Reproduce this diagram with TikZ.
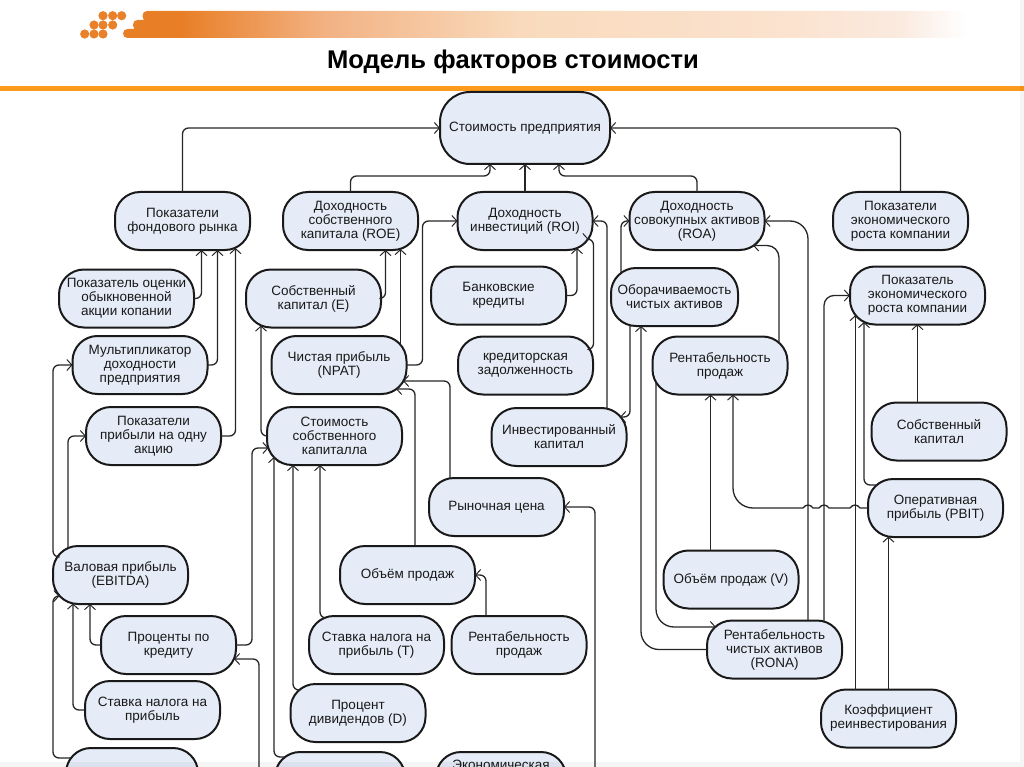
\documentclass[tikz,border=0pt]{standalone}
\usepackage{fontspec}
\setmainfont{Liberation Sans}
\usetikzlibrary{arrows.meta,calc}
\definecolor{vfill}{HTML}{E5ECF7}
\definecolor{vrule}{HTML}{FB9A1C}
\definecolor{vdot}{HTML}{E8812A}
\definecolor{vbarA}{HTML}{E87F27}
\definecolor{vbarB}{HTML}{F2B283}
\definecolor{vbarC}{HTML}{F9DABC}
\definecolor{vbarD}{HTML}{FBE3D0}
\definecolor{vbarE}{HTML}{FAEADF}
\pgfdeclarehorizontalshading{vbar}{100bp}{
  color(0bp)=(vbarA);
  color(28.5bp)=(vbarA);
  color(37bp)=(vbarB);
  color(48.5bp)=(vbarC);
  color(65bp)=(vbarD);
  color(71bp)=(vbarE);
  color(75bp)=(white);
  color(100bp)=(white)}
\begin{document}
\begin{tikzpicture}[
  x=1pt, y=-1pt,
  vfact/.style = {draw=black!90, fill=vfill, line width=2pt, rectangle, rounded corners=25,
    minimum width=135, minimum height=58, inner sep=0pt, outer sep=0pt, align=center,
    text=black!90, font=\fontsize{13.5}{14}\selectfont},
  vwire/.style = {-{Straight Barb[length=5pt,width=11pt,line width=1pt]}, line width=1.3pt, black!85, rounded corners=6}
]
  \useasboundingbox (0,0) rectangle (1024,767);
  \clip (0,0) rectangle (1024,767);
  % header
  \foreach \x/\y in {103/15.7,112.7/15.7,121.7/15.7,94/25,103/25,112.7/25,84.7/34,94/34,103/34} {
    \fill[vdot] (\x,\y) circle (4.6);
  }
  \shade[shading=vbar, rounded corners=4.5] (142.5,11) rectangle (967,21)
    (133,20) rectangle (967,30) (123,29) rectangle (967,38);
  \node (titul) at (513,62) {\fontsize{25.6}{27}\selectfont\bfseries Модель факторов стоимости};
  \fill[vrule] (0,86) rectangle (1024,91);
  % top row
  \node[vfact, minimum width=170, minimum height=72, rounded corners=30] (top) at (525,128) {Стоимость предприятия};
  \node[vfact] (fond) at (182.5,221) {Показатели\\фондового рынка};
  \node[vfact] (roe) at (350.5,221) {Доходность\\собственного\\капитала (ROE)};
  \node[vfact] (roi) at (525,221) {Доходность\\инвестиций (ROI)};
  \node[vfact] (roa) at (697,221) {Доходность\\совокупных активов\\(ROA)};
  \node[vfact] (econ) at (900.5,221) {Показатели\\экономического\\роста компании};
  % second row
  \node[vfact] (ocenka) at (126.5,298.5) {Показатель оценки\\обыкновенной\\акции копании};
  \node[vfact] (sobstE) at (313.5,298.5) {Собственный\\капитал (E)};
  \node[vfact] (bank) at (498.5,295.5) {Банковские\\кредиты};
  \node[vfact, minimum width=127] (oborot) at (674.5,297) {Оборачиваемость\\чистых активов};
  \node[vfact] (econB) at (917.5,295.5) {Показатель\\экономического\\роста компании};
  % third row
  \node[vfact] (mult) at (140,365) {Мультипликатор\\доходности\\предприятия};
  \node[vfact] (npat) at (339,365) {Чистая прибыль\\(NPAT)};
  \node[vfact] (kred) at (525.5,365.5) {кредиторская\\задолженность};
  \node[vfact] (rent) at (720,365.5) {Рентабельность\\продаж};
  \node[vfact] (prib) at (153.5,436) {Показатели\\прибыли на одну\\акцию};
  \node[vfact] (stoimK) at (334.5,436) {Стоимость\\собственного\\капиталла};
  \node[vfact] (invest) at (559,437) {Инвестированный\\капитал};
  \node[vfact] (sobstK) at (939,431.5) {Собственный\\капитал};
  % lower rows
  \node[vfact] (rynok) at (496.5,507) {Рыночная цена};
  \node[vfact] (pbit) at (935.5,508) {Оперативная\\прибыль (PBIT)};
  \node[vfact] (ebitda) at (120.5,575) {Валовая прибыль\\(EBITDA)};
  \node[vfact] (obem) at (407.5,575) {Объём продаж};
  \node[vfact] (obemV) at (731,579.5) {Объём продаж (V)};
  \node[vfact] (proc) at (168.5,645) {Проценты по\\кредиту};
  \node[vfact] (stavkaT) at (376.5,645) {Ставка налога на\\прибыль (T)};
  \node[vfact] (rentB) at (519,645) {Рентабельность\\продаж};
  \node[vfact] (rona) at (774.5,649.5) {Рентабельность\\чистых активов\\(RONA)};
  \node[vfact] (stavka) at (152.5,710) {Ставка налога на\\прибыль};
  \node[vfact] (divid) at (358,713) {Процент\\дивидендов (D)};
  \node[vfact] (koef) at (888.5,718.5) {Коэффициент\\реинвестирования};
  % cut off by the lower edge
  \node[vfact, minimum width=132] (nizA) at (132,777) {};
  \node[vfact, minimum width=130] (nizB) at (340,781) {};
  \node[vfact, minimum width=130] (nizC) at (501,781) {\raisebox{12pt}[0pt][0pt]{Экономическая}};
  \coordinate (nizP) at (259,775);
  \coordinate (nizR) at (595,775);
  % to the top
  \draw[vwire] (fond.north) |- (top.west);
  \draw[vwire] (econ.north) |- (top.east);
  \draw[vwire] (roi.north) -- (top.south);
  \draw[vwire] (roe.north) -- ++(0,-16) -| ($(top)+(-35,36)$);
  \draw[vwire] (roa.north) -- ++(0,-16) -| ($(top)+(34,36)$);
  % stock market block
  \draw[vwire] (ocenka.east) -| ($(fond)+(19,29)$);
  \draw[vwire] (mult.east) -| ($(fond)+(35,29)$);
  \draw[vwire] (prib.east) -| ($(fond)+(53,27)$);
  \draw[vwire] ($(ebitda)+(-61,-18)$) -- ++(-6.5,0) |- (mult.west);
  \draw[vwire] ($(ebitda)+(-52.5,-27)$) |- (prib.west);
  \draw[vwire] ($(nizA)+(-61,-19)$) -- ++(-18,0) |- ($(ebitda)+(-61,21)$);
  \draw[vwire] (stavka.west) -| ($(ebitda)+(-47.5,28.5)$);
  \draw[vwire] (proc.west) -| ($(ebitda)+(-30.5,29)$);
  \draw[vwire] (nizP) |- ($(proc)+(65.5,14)$);
  % equity block
  \draw[vwire] (sobstE.east) -| ($(roe)+(35,29)$);
  \draw[vwire] ($(npat)+(61.5,-20)$) -- ($(roe)+(50,28)$);
  \draw[vwire] (npat.east) -- ++(16,0) |- (roi.west);
  \draw[vwire] ($(rynok)+(-46.5,-29)$) |- ($(npat)+(64,16)$);
  \draw[vwire] ($(obem)+(7.5,-29)$) |- ($(npat)+(57,24)$);
  \draw[vwire] (stoimK.west) -| ($(sobstE)+(-52.5,27)$);
  \draw[vwire] (proc.east) -- ++(16,0) |- ($(stoimK)+(-66,12)$);
  \draw[vwire] ($(nizB)+(-55,-24)$) -| ($(stoimK)+(-60.5,21)$);
  \draw[vwire] ($(divid)+(-58,-23)$) -| ($(stoimK)+(-41.5,29)$);
  \draw[vwire] ($(stavkaT)+(-52,-27)$) -| ($(stoimK)+(-14.5,29)$);
  \draw[vwire] ($(rentB)+(-33,-29)$) |- (obem.east);
  \draw[vwire] (nizR) |- (rynok.east);
  % investment block
  \draw[vwire] (bank.east) -| ($(roi)+(52,27)$);
  \draw[vwire] ($(kred)+(64,-16)$) -- ++(4,0) |- ($(roi)+(63.5,18)$);
  \draw[vwire] ($(invest)+(48,-28)$) |- (roi.east);
  \draw[vwire] ($(oborot)+(-44.5,28)$) |- ($(invest)+(61,-20)$);
  % assets block
  \draw[vwire] ($(oborot)+(-53.5,-24)$) |- (roa.west);
  \draw[vwire, rounded corners=18] (rona.west) -| ($(oborot)+(-33.5,29)$);
  \draw[vwire, rounded corners=18] ($(rent)+(-64,16)$) |- ($(rona)+(-58.5,-22.5)$);
  \draw[vwire] ($(obemV)+(-20.5,-28.5)$) -- ($(rent)+(-9.5,29)$);
  \draw[vwire, rounded corners=12] ($(rent)+(59,-22)$) |- ($(roa)+(56,24.5)$);
  \draw[vwire, rounded corners=18] ($(rona)+(33.5,-28.5)$) |- (roa.east);
  \draw[vwire, rounded corners=10] ($(rona)+(49.5,-27.5)$) |- (econB.west);
  \draw[vwire] ($(koef)+(-33,-28.5)$) -- ($(econB)+(-62,19.5)$);
  \draw[vwire] ($(pbit)+(-58.5,-23)$) -| ($(econB)+(-53.5,26.5)$);
  \draw[vwire] ($(sobstK)+(-21.5,-28.5)$) -- ($(econB)+(0,28.5)$);
  \draw[vwire] ($(koef)+(0,-28.5)$) -- ($(pbit)+(-47,28.5)$);
  % line with hops over the three verticals
  \draw[vwire, sharp corners] (pbit.west) -- (860,508) .. controls (857,504) and (853,504) .. (850,508)
    -- (829,508) .. controls (826,504) and (822,504) .. (819,508)
    -- (813,508) .. controls (810,504) and (806,504) .. (803,508)
    [rounded corners=20] -- (733,508) -- ($(rent)+(13,29)$);
  % faint edge of the slide
  \fill[black, opacity=0.04] (0,762) rectangle (1024,767);
  \fill[black, opacity=0.04] (1020,0) rectangle (1024,762);
\end{tikzpicture}
\end{document}
